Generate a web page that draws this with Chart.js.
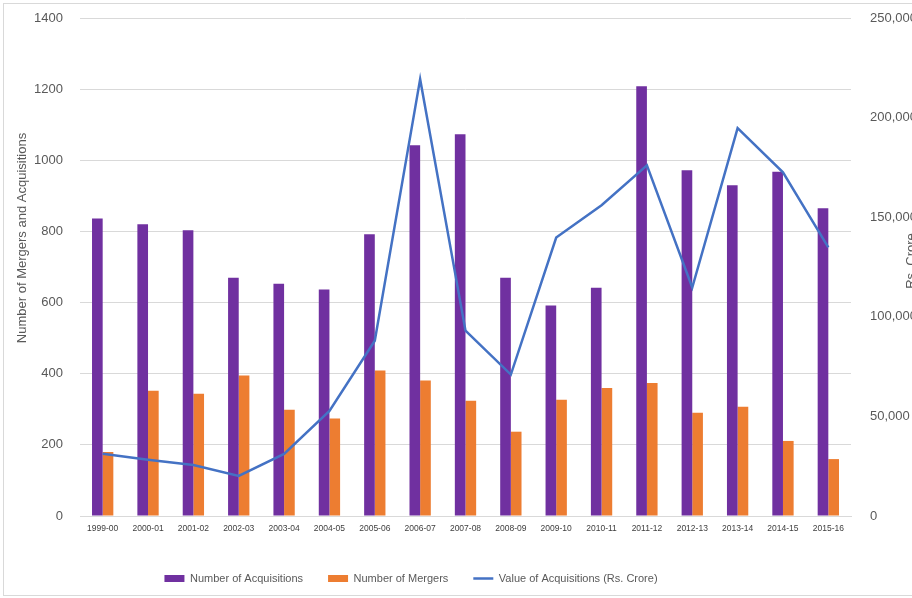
<!DOCTYPE html>
<html><head><meta charset="utf-8">
<script src="https://cdn.jsdelivr.net/npm/chart.js@4.4.0/dist/chart.umd.min.js"></script>
<style>html,body{margin:0;padding:0;background:#fff;overflow:hidden}</style>
</head><body>
<canvas id="c" width="912" height="598"></canvas>
<script>
const categories = ["1999-00","2000-01","2001-02","2002-03","2003-04","2004-05","2005-06","2006-07","2007-08","2008-09","2009-10","2010-11","2011-12","2012-13","2013-14","2014-15","2015-16"];
const acquisitions = [836,820,803,670,653,637,792,1042,1073,670,592,642,1208,972,930,968,865];
const mergers = [180,352,344,395,299,274,409,381,324,237,327,360,374,290,307,211,160];
const acquisitionValue = [31200,28200,25600,20100,31200,52800,88000,219300,93000,71000,139800,156000,176000,114700,194700,172500,134800];
const leftTicks = [0,200,400,600,800,1000,1200,1400];
const rightTicks = [0,50000,100000,150000,200000,250000];
const leftTitle = "Number of Mergers and Acquisitions";
const rightTitle = "Rs. Crore";

const tickColor = "#595959";
const fontFam = "'Liberation Sans', Arial, sans-serif";

const extras = {
  id: 'extras',
  afterLayout(chart) {
    if (chart.legend) { chart.legend.left -= 45; chart.legend.right -= 45; }
  },
  afterDraw(chart) {
    const ctx = chart.ctx;
    ctx.save();
    ctx.strokeStyle = '#D9D9D9';
    ctx.lineWidth = 1;
    ctx.strokeRect(3.5, 3.5, 920, 592);
    ctx.fillStyle = tickColor;
    ctx.font = "13px " + fontFam;
    ctx.textAlign = 'center';
    ctx.textBaseline = 'middle';
    ctx.translate(22, 238);
    ctx.rotate(-Math.PI / 2);
    ctx.fillText(leftTitle, 0, 0);
    ctx.restore();
    ctx.save();
    ctx.fillStyle = tickColor;
    ctx.font = "13px " + fontFam;
    ctx.textAlign = 'center';
    ctx.textBaseline = 'middle';
    ctx.translate(911, 261);
    ctx.rotate(-Math.PI / 2);
    ctx.fillText(rightTitle, 0, 0);
    ctx.restore();
  }
};

new Chart(document.getElementById('c'), {
  data: {
    labels: categories,
    datasets: [
      { type: 'bar', label: 'Number of Acquisitions', data: acquisitions, backgroundColor: '#7030A0', yAxisID: 'y', order: 1, pointStyle: 'rect', categoryPercentage: 0.47, barPercentage: 1 },
      { type: 'bar', label: 'Number of Mergers', data: mergers, backgroundColor: '#ED7D31', yAxisID: 'y', order: 1, pointStyle: 'rect', categoryPercentage: 0.47, barPercentage: 1 },
      { type: 'line', label: 'Value of Acquisitions (Rs. Crore)', data: acquisitionValue, borderColor: '#4472C4', backgroundColor: '#4472C4', borderWidth: 2.5, pointRadius: 0, pointHoverRadius: 0, tension: 0, yAxisID: 'y1', order: 0, pointStyle: 'line' }
    ]
  },
  options: {
    responsive: false,
    animation: false,
    events: [],
    layout: { padding: { top: 18, bottom: 4, left: 0, right: 0 } },
    plugins: {
      tooltip: { enabled: false },
      legend: {
        position: 'bottom',
        labels: {
          usePointStyle: true,
          pointStyleWidth: 20,
          boxHeight: 7,
          padding: 25,
          color: tickColor,
          font: { family: fontFam, size: 11 },
          sort: (a, b) => a.datasetIndex - b.datasetIndex
        }
      }
    },
    scales: {
      x: {
        grid: { display: false, drawTicks: false },
        border: { display: true, color: '#D9D9D9' },
        ticks: { color: '#404040', font: { family: fontFam, size: 8.5 }, padding: 8, maxRotation: 0, autoSkip: false },
        afterFit(s) { s.height = 32; }
      },
      y: {
        position: 'left', min: 0, max: 1400,
        afterBuildTicks(s) { s.ticks = leftTicks.map(v => ({ value: v })); },
        grid: { color: '#D9D9D9', drawTicks: false },
        border: { display: false },
        ticks: { color: tickColor, font: { family: fontFam, size: 13 }, padding: 17, callback: v => String(v) },
        afterFit(s) { s.width = 80; s.paddingTop = 8; s.paddingBottom = 8; }
      },
      y1: {
        position: 'right', min: 0, max: 250000,
        afterBuildTicks(s) { s.ticks = rightTicks.map(v => ({ value: v })); },
        grid: { display: false, drawTicks: false },
        border: { display: false },
        ticks: { color: tickColor, font: { family: fontFam, size: 13 }, padding: 19, callback: v => v.toLocaleString('en-US') },
        afterFit(s) { s.width = 61; s.paddingTop = 8; s.paddingBottom = 8; }
      }
    }
  },
  plugins: [extras]
});
</script>
</body></html>
